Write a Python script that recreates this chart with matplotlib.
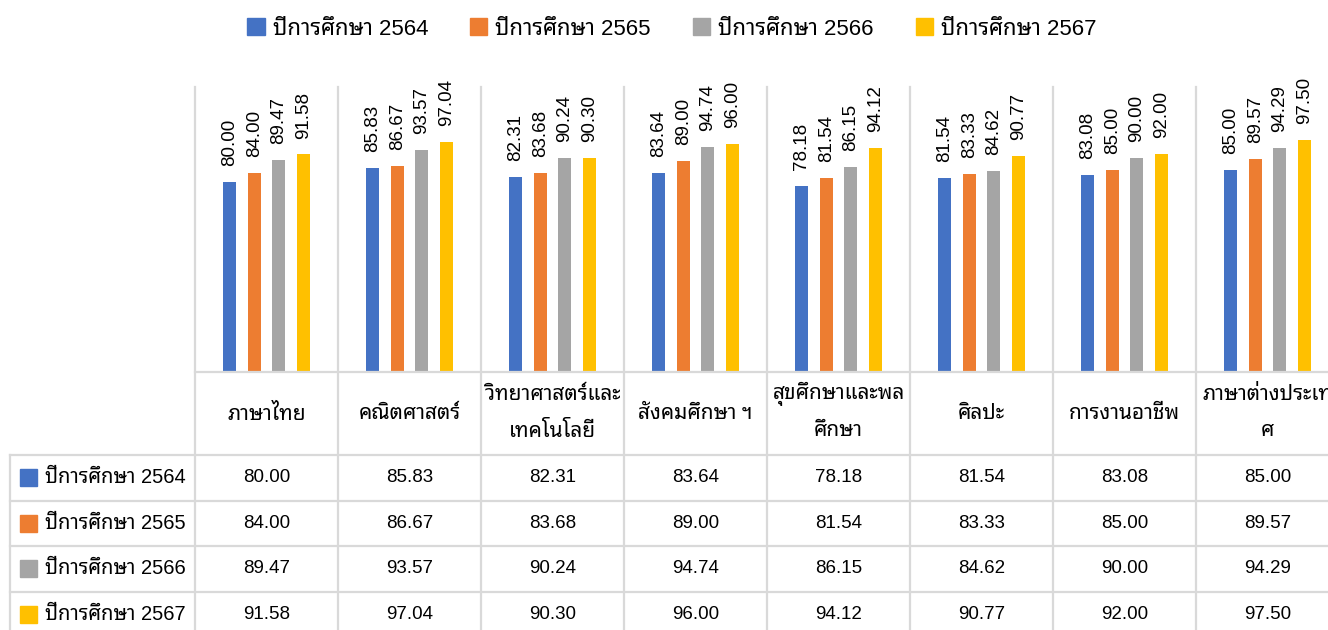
import numpy as np
import matplotlib
matplotlib.use('Agg')
import matplotlib.pyplot as plt
from matplotlib.patches import Patch, Rectangle
from matplotlib.transforms import blended_transform_factory

plt.rcParams['font.family'] = ['Liberation Sans', 'Noto Sans Thai Looped']

SUBJECTS = ['ภาษาไทย', 'คณิตศาสตร์', 'วิทยาศาสตร์และ\nเทคโนโลยี', 'สังคมศึกษา ฯ',
            'สุขศึกษาและพล\nศึกษา', 'ศิลปะ', 'การงานอาชีพ', 'ภาษาต่างประเท\nศ']
YEARS = ['ปีการศึกษา 2564', 'ปีการศึกษา 2565', 'ปีการศึกษา 2566', 'ปีการศึกษา 2567']
Y2564 = [80.00, 85.83, 82.31, 83.64, 78.18, 81.54, 83.08, 85.00]
Y2565 = [84.00, 86.67, 83.68, 89.00, 81.54, 83.33, 85.00, 89.57]
Y2566 = [89.47, 93.57, 90.24, 94.74, 86.15, 84.62, 90.00, 94.29]
Y2567 = [91.58, 97.04, 90.30, 96.00, 94.12, 90.77, 92.00, 97.50]
COLORS = ['#4472C4', '#ED7D31', '#A5A5A5', '#FFC000']
series = [Y2564, Y2565, Y2566, Y2567]

W, H = 1328, 630
FS = 13.5
GRID = '#d9d9d9'


def fy(px):
    # pixel row from the top -> figure fraction
    return 1 - px / H


fig = plt.figure(figsize=(W / 100, H / 100), dpi=100)
ax = fig.add_axes([195 / W, fy(372), 8 * 143 / W, 285 / H])
ax.set_xlim(0, 8)
ax.set_ylim(0, 120)
ax.axis('off')

n = len(SUBJECTS)
x = np.arange(n) + 0.5
for j, (vals, col) in enumerate(zip(series, COLORS)):
    xs = x + (j - 1.5) * 0.171
    ax.bar(xs, vals, width=0.091, color=col, zorder=2)
    for xi, v in zip(xs, vals):
        ax.annotate('{:.2f}'.format(v), (xi, v), xytext=(0, 11.5),
                    textcoords='offset points', rotation=90,
                    ha='center', va='bottom', fontsize=FS, annotation_clip=False)

# data table under the chart
tr = blended_transform_factory(ax.transData, fig.transFigure)
row_lines = [455, 500.5, 546, 591.5, 637]
for k in range(n + 1):
    ax.plot([k, k], [fy(87), fy(640)], color=GRID, lw=1.6, transform=tr,
            clip_on=False, zorder=1)
ax.plot([0, n], [fy(372), fy(372)], color=GRID, lw=1.6, transform=tr, clip_on=False)
for yp in row_lines:
    fig.add_artist(plt.Line2D([10 / W, 1], [fy(yp), fy(yp)], color=GRID, lw=1.6))
fig.add_artist(plt.Line2D([10 / W, 10 / W], [fy(455), fy(640)], color=GRID, lw=1.6))

for k, lab in enumerate(SUBJECTS):
    lines = lab.split('\n')
    if len(lines) == 1:
        ys = [413.5]
    else:
        ys = [394, 431]
    for s, yp in zip(lines, ys):
        ax.text(k + 0.5, fy(yp), s, transform=tr, ha='center', va='center',
                fontsize=15, clip_on=False)

for i, (name, vals, col) in enumerate(zip(YEARS, series, COLORS)):
    yc = (row_lines[i] + row_lines[i + 1]) / 2
    fig.add_artist(Rectangle((20 / W, fy(yc + 8.5)), 17 / W, 17 / H,
                             color=col, transform=fig.transFigure))
    fig.text(45 / W, fy(yc), name, ha='left', va='center', fontsize=14.5)
    for k, v in enumerate(vals):
        ax.text(k + 0.5, fy(yc), '{:.2f}'.format(v), transform=tr,
                ha='center', va='center', fontsize=FS, clip_on=False)

handles = [Patch(color=c, label=l) for c, l in zip(COLORS, YEARS)]
fig.legend(handles=handles, loc='center', bbox_to_anchor=(672 / W, fy(29)), ncol=4,
           frameon=False, fontsize=16, handlelength=0.77, handleheight=0.77,
           handletextpad=0.36, columnspacing=1.9)

fig.savefig('out.png', dpi=100)
